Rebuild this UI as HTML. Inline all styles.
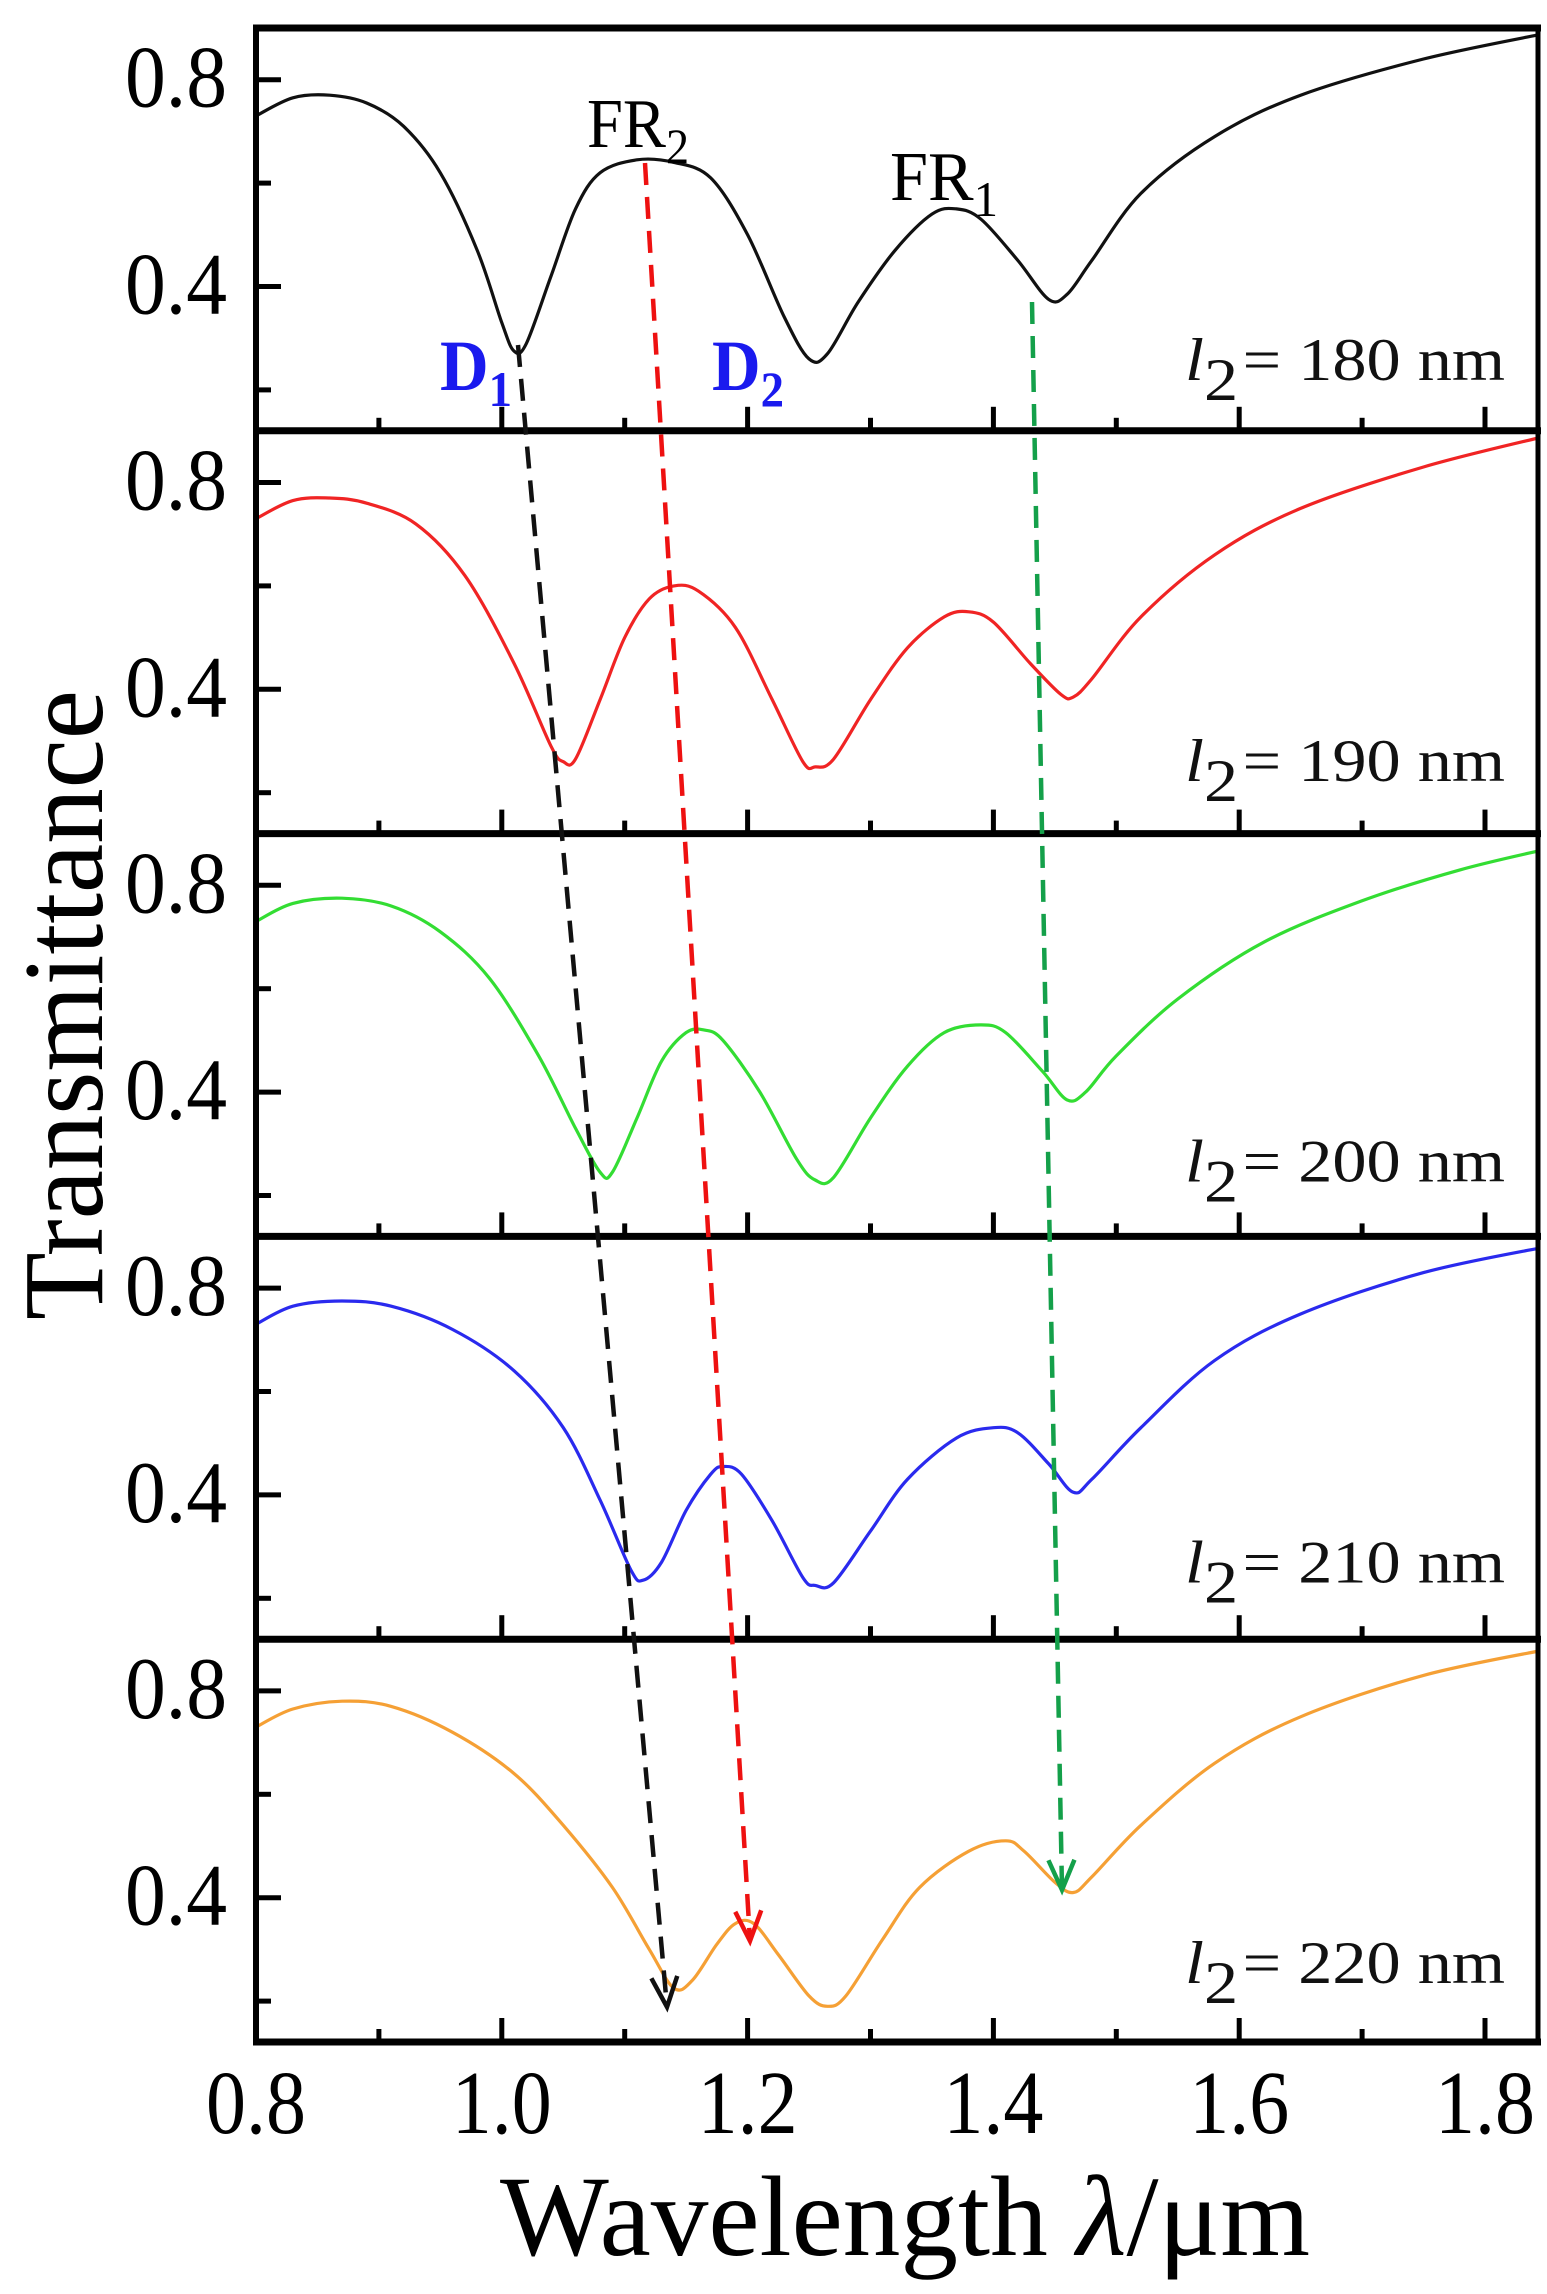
<!DOCTYPE html>
<html><head><meta charset="utf-8"><style>
html,body{margin:0;padding:0;background:#fff;}
svg{display:block;}
text{font-family:"Liberation Serif",serif;}
</style></head><body>
<svg id="s" width="1547" height="2294" viewBox="0 0 1547 2294" xmlns="http://www.w3.org/2000/svg">
<defs>
<clipPath id="cp"><rect x="256" y="28" width="1282" height="2014"/></clipPath>
</defs>
<g id="curves" clip-path="url(#cp)"></g>
<g id="axes"></g>
<g id="ann"></g>
</svg>
<script>
var NS="http://www.w3.org/2000/svg";
var X0=256,X1=1538,TOP=28,PH=402.8;
function xs(l){return 256+(l-0.8)*1229;}
function ys(k,t){return TOP+PH*k+(0.9-t)*517;}
function el(tag,attrs,parent,txt){var e=document.createElementNS(NS,tag);for(var a in attrs)e.setAttribute(a,attrs[a]);if(txt!==undefined)e.textContent=txt;(parent||document.getElementById('s')).appendChild(e);return e;}
var data=[
{c:"#111",p:[[0.80,.73],[0.83,.765],[0.86,.77],[0.89,.755],[0.92,.71],[0.95,.62],[0.98,.47],[1.0,.33],[1.01,.275],[1.02,.29],[1.04,.42],[1.06,.55],[1.08,.62],[1.11,.645],[1.14,.64],[1.17,.61],[1.20,.5],[1.23,.34],[1.25,.26],[1.265,.27],[1.29,.37],[1.32,.47],[1.35,.54],[1.37,.55],[1.39,.53],[1.42,.45],[1.445,.375],[1.46,.385],[1.48,.45],[1.52,.58],[1.58,.69],[1.65,.77],[1.75,.84],[1.85,.89]]},
{c:"#f02424",p:[[0.80,.73],[0.83,.765],[0.86,.77],[0.89,.76],[0.93,.72],[0.97,.62],[1.01,.45],[1.04,.29],[1.05,.26],[1.06,.265],[1.08,.38],[1.10,.5],[1.12,.575],[1.14,.6],[1.16,.59],[1.19,.52],[1.22,.38],[1.245,.26],[1.255,.25],[1.27,.265],[1.30,.38],[1.33,.48],[1.36,.54],[1.38,.55],[1.40,.53],[1.43,.45],[1.455,.39],[1.465,.385],[1.48,.42],[1.52,.54],[1.58,.66],[1.65,.75],[1.75,.83],[1.85,.89]]},
{c:"#33dd33",p:[[0.80,.73],[0.83,.765],[0.87,.775],[0.91,.76],[0.95,.71],[0.99,.62],[1.03,.47],[1.06,.33],[1.08,.245],[1.09,.245],[1.11,.35],[1.13,.46],[1.15,.515],[1.165,.52],[1.18,.5],[1.21,.4],[1.24,.27],[1.255,.23],[1.27,.235],[1.30,.35],[1.33,.45],[1.36,.515],[1.39,.53],[1.41,.515],[1.44,.44],[1.46,.385],[1.475,.4],[1.50,.47],[1.55,.58],[1.62,.69],[1.70,.77],[1.78,.83],[1.85,.87]]},
{c:"#2a2aee",p:[[0.80,.73],[0.83,.765],[0.87,.775],[0.91,.765],[0.96,.72],[1.01,.64],[1.05,.53],[1.08,.39],[1.105,.255],[1.115,.235],[1.13,.27],[1.15,.37],[1.17,.44],[1.18,.455],[1.195,.44],[1.22,.35],[1.245,.24],[1.255,.225],[1.27,.23],[1.30,.33],[1.33,.43],[1.37,.51],[1.40,.53],[1.42,.52],[1.445,.46],[1.465,.405],[1.48,.43],[1.52,.53],[1.58,.66],[1.65,.75],[1.75,.83],[1.85,.88]]},
{c:"#f5a035",p:[[0.80,.73],[0.83,.765],[0.87,.78],[0.91,.77],[0.96,.72],[1.01,.64],[1.05,.54],[1.09,.42],[1.12,.3],[1.14,.225],[1.155,.24],[1.175,.31],[1.19,.35],[1.205,.35],[1.225,.29],[1.25,.21],[1.265,.19],[1.28,.21],[1.31,.32],[1.34,.42],[1.38,.49],[1.41,.51],[1.425,.49],[1.45,.43],[1.465,.41],[1.48,.44],[1.52,.54],[1.58,.66],[1.65,.75],[1.75,.83],[1.85,.88]]}
];
var cg=document.getElementById('curves');
data.forEach(function(d,k){
 var pts=d.p.map(function(q){return [xs(q[0]),ys(k,q[1])];});
 var s="M"+pts[0][0].toFixed(1)+","+pts[0][1].toFixed(1);
 for(var i=0;i<pts.length-1;i++){
  var p0=pts[Math.max(0,i-1)],p1=pts[i],p2=pts[i+1],p3=pts[Math.min(pts.length-1,i+2)];
  var c1=[p1[0]+(p2[0]-p0[0])/6,p1[1]+(p2[1]-p0[1])/6],c2=[p2[0]-(p3[0]-p1[0])/6,p2[1]-(p3[1]-p1[1])/6];
  s+="C"+c1[0].toFixed(1)+","+c1[1].toFixed(1)+" "+c2[0].toFixed(1)+","+c2[1].toFixed(1)+" "+p2[0].toFixed(1)+","+p2[1].toFixed(1);
 }
 el('path',{d:s,fill:"none",stroke:d.c,"stroke-width":3.2,"stroke-linejoin":"round"},cg);
});
var ag=document.getElementById('axes');
for(var k=0;k<=5;k++){var y=TOP+PH*k;el('line',{x1:253,y1:y,x2:1541,y2:y,stroke:"#000","stroke-width":7},ag);}
el('line',{x1:256,y1:TOP,x2:256,y2:2044,stroke:"#000","stroke-width":6},ag);
el('line',{x1:1538,y1:TOP,x2:1538,y2:2044,stroke:"#000","stroke-width":5},ag);
var labels=["180","190","200","210","220"];
for(var k=0;k<5;k++){
 var bot=TOP+PH*(k+1);
 for(var i=1;i<=10;i++){var l=0.8+i*0.1;var x=xs(l);var maj=(i%2==0);
  el('line',{x1:x,y1:bot,x2:x,y2:bot-(maj?24:13),stroke:"#000","stroke-width":5},ag);}
 [[0.8,1],[0.6,0],[0.4,1],[0.2,0]].forEach(function(t){var y=ys(k,t[0]);
  el('line',{x1:256,y1:y,x2:256+(t[1]?25:15),y2:y,stroke:"#000","stroke-width":5},ag);
  if(t[1]) el('text',{x:227,y:y+27,"font-size":88,"text-anchor":"end",textLength:102,lengthAdjust:"spacingAndGlyphs"},ag,t[0].toFixed(1));
 });
 var by=380+k*(1983-380)/4;
 var t=el('text',{x:1185,y:by,"font-size":60,fill:"#111"},ag);
 el('tspan',{"font-style":"italic"},t,"l");
 el('tspan',{dy:20,"font-size":60},t,"2");
 el('tspan',{dy:-20,dx:4},t,"= "+labels[k]+" nm");
 t.setAttribute('textLength',320);t.setAttribute('lengthAdjust','spacingAndGlyphs');
}
["0.8","1.0","1.2","1.4","1.6","1.8"].forEach(function(s,i){
 el('text',{x:xs(0.8+0.2*i),y:2133,"font-size":90,"text-anchor":"middle",textLength:100,lengthAdjust:"spacingAndGlyphs"},ag,s);
});
var xt=el('text',{x:500,y:2255,"font-size":114,textLength:810,lengthAdjust:"spacingAndGlyphs"},ag);
el('tspan',{},xt,"Wavelength ");el('tspan',{"font-style":"italic"},xt,"λ");el('tspan',{},xt,"/μm");
el('text',{x:0,y:0,"font-size":114,transform:"translate(102,1005) rotate(-90)","text-anchor":"middle",textLength:630,lengthAdjust:"spacingAndGlyphs"},ag,"Transmittance");
var an=document.getElementById('ann');
function sub(x,y,main,s,attrs,sz,tl){var t=el('text',Object.assign({x:x,y:y},attrs),an);el('tspan',{},t,main);el('tspan',{dy:16,"font-size":sz},t,s);if(tl){t.setAttribute('textLength',tl);t.setAttribute('lengthAdjust','spacingAndGlyphs');}}
sub(587,147,"FR","2",{"font-size":70},50,102);
sub(890,200,"FR","1",{"font-size":70},50,108);
sub(440,390,"D","1",{"font-size":72,"font-weight":"bold",fill:"#1a1aee"},50,72);
sub(712,390,"D","2",{"font-size":72,"font-weight":"bold",fill:"#1a1aee"},50,72);
function arrow(x1,y1,x2,y2,c){
 el('line',{x1:x1,y1:y1,x2:x2,y2:y2,stroke:c,"stroke-width":4.5,"stroke-dasharray":"22,12"},an);
 var dx=x2-x1,dy=y2-y1,L=Math.sqrt(dx*dx+dy*dy);dx/=L;dy/=L;var px=-dy,py=dx,h=30,w=13;
 el('polyline',{points:(x2-dx*h+px*w)+","+(y2-dy*h+py*w)+" "+x2+","+y2+" "+(x2-dx*h-px*w)+","+(y2-dy*h-py*w),fill:"none",stroke:c,"stroke-width":4.5},an);
}
arrow(518,345,667,2007,"#111");
arrow(645,163,750,1941,"#ee1111");
arrow(1032,302,1062,1890,"#14a04a");
</script>
</body></html>
